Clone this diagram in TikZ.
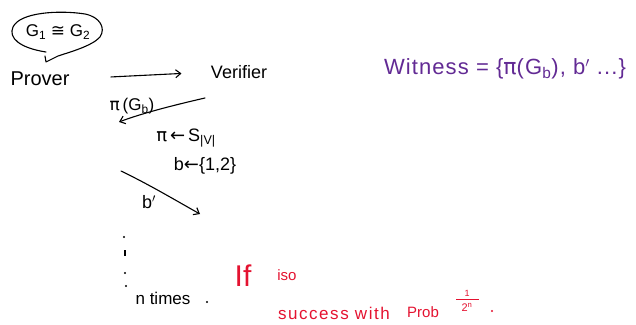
\documentclass[tikz,border=0pt]{standalone}
\usepackage{fontspec}
\setmainfont{Liberation Sans}
\newfontfamily\sym{DejaVu Sans}
\usetikzlibrary{arrows.meta}
\definecolor{wit}{RGB}{98,42,148}
\definecolor{rd}{RGB}{228,18,48}
\newcommand{\fs}[1]{\fontsize{#1}{#1}\selectfont}
\newcommand{\wide}[1]{\addfontfeature{LetterSpace=#1}}
\begin{document}
\begin{tikzpicture}[x=1pt,y=-1pt,line width=1.1pt,
  >={Straight Barb[length=5pt,width=8pt]},
  txt/.style={inner sep=0pt,anchor=center},
  conn/.style={->,line cap=round}]
\useasboundingbox (0,0) rectangle (636,324);
% speech bubble
\node[txt,font=\fs{17}] (iso) at (58,32) {G\textsubscript{1} {\sym ≅} G\textsubscript{2}};
\draw[line cap=round,line join=round] (46,52) .. controls (20,48) and (8,38) .. (13,27)
  .. controls (20,12) and (60,10) .. (85,14)
  .. controls (100,17) and (106,28) .. (100,37)
  .. controls (92,46) and (70,52) .. (58,56)
  -- (46,62) -- (45,56);
% main nodes
\node[txt,font=\fs{20}] (prover) at (40,79) {Prover};
\node[txt,font=\fs{18}] (verifier) at (239,72) {Verifier};
\draw[conn,shorten <=41pt,shorten >=29pt] (prover.east) -- (verifier.west);
% pi(G_b)
\node[txt,font=\fs{17}] (pig) at (132,106) {{\sym π}\,(G\textsubscript{b})};
\coordinate (s1) at (205,98);
\coordinate (e1) at (119,122);
\draw[conn] (s1) .. controls (170,106) and (140,114) .. (e1);
\node[txt,font=\fs{18}] (pis) at (186,138) {{\sym π\,←\,}S\textsubscript{|V|}};
\node[txt,font=\fs{18}] (bset) at (205,166) {b{\sym ←}\{1,2\}};
% b'
\coordinate (s2) at (121,171);
\coordinate (e2) at (200,214);
\draw[conn] (s2) .. controls (150,185) and (175,200) .. (e2);
\node[txt,font=\fs{18}] (bp) at (149,202) {b$'$};
% dots
\fill (124,237) circle (1.1pt);
\draw (125,250) -- (125,256);
\fill (125,273) circle (1.1pt);
\fill (126,286) circle (1.1pt);
\node[txt,font=\fs{17}] (ntimes) at (163,298) {n times};
\fill (207,302) circle (1.2pt);
% red
\node[txt,font=\fs{30},text=rd] (if) at (243,276) {If};
\node[txt,font=\fs{15},text=rd] (isow) at (287,275) {iso};
\node[txt,font=\fs{17}\wide{9},text=rd] (succ) at (334,313) {success with};
\node[txt,font=\fs{15},text=rd] (prob) at (423,312) {Prob};
\node[txt,font=\fs{9},text=rd] (one) at (467,293) {1};
\draw[rd,line width=1pt] (456,299) -- (479,299);
\node[txt,font=\fs{11},text=rd] (two) at (467,307) {2\textsuperscript{n}};
\fill[rd] (492,311) circle (1.1pt);
% witness
\node[txt,font=\fs{22}\wide{5},text=wit] (witness) at (505,69) {Witness = \{{\sym π}(G\textsubscript{b}), b$'$ ...\}};
\end{tikzpicture}
\end{document}
